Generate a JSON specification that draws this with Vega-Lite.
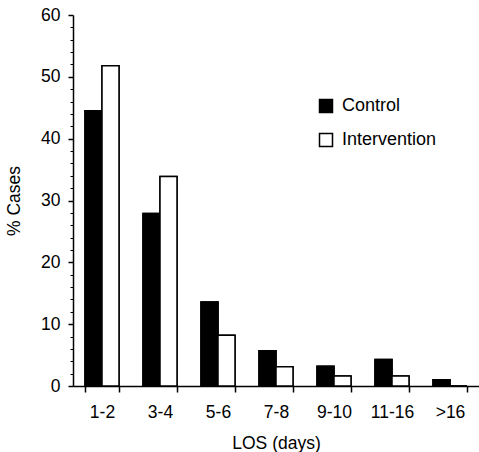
{
  "$schema": "https://vega.github.io/schema/vega-lite/v6.json",
  "autosize": {"type": "none"},
  "padding": {"left": 73, "top": 15, "right": 0, "bottom": 66},
  "width": 406,
  "height": 371,
  "background": "white",
  "config": {
    "view": {"stroke": null},
    "font": "Liberation Sans",
    "axis": {"labelFont": "Liberation Sans", "titleFont": "Liberation Sans", "labelColor": "black", "titleColor": "black", "domainColor": "black", "tickColor": "black", "grid": false, "titleFontWeight": "normal", "labelFontSize": 17.5, "titleFontSize": 17.5}
  },
  "data": {
    "values": [
      {"los": "1-2", "group": "Control", "pct": 44.5},
      {"los": "1-2", "group": "Intervention", "pct": 51.8},
      {"los": "3-4", "group": "Control", "pct": 27.9},
      {"los": "3-4", "group": "Intervention", "pct": 33.9},
      {"los": "5-6", "group": "Control", "pct": 13.6},
      {"los": "5-6", "group": "Intervention", "pct": 8.2},
      {"los": "7-8", "group": "Control", "pct": 5.7},
      {"los": "7-8", "group": "Intervention", "pct": 3.1},
      {"los": "9-10", "group": "Control", "pct": 3.2},
      {"los": "9-10", "group": "Intervention", "pct": 1.6},
      {"los": "11-16", "group": "Control", "pct": 4.3},
      {"los": "11-16", "group": "Intervention", "pct": 1.6},
      {"los": ">16", "group": "Control", "pct": 1.0},
      {"los": ">16", "group": "Intervention", "pct": 0}
    ]
  },
  "layer": [
    {
      "mark": {"type": "bar", "stroke": "black", "strokeWidth": 1.5},
      "encoding": {
        "x": {"field": "los", "type": "nominal", "sort": null,
          "scale": {"paddingInner": 0.414, "paddingOuter": 0.207},
          "axis": {"title": "LOS (days)", "labelAngle": 0, "tickBand": "extent", "tickSize": 6, "tickWidth": 1.5, "domainWidth": 1.5, "labelPadding": 11, "titlePadding": 14}},
        "xOffset": {"field": "group", "type": "nominal", "scale": {"paddingInner": 0, "paddingOuter": 0}},
        "y": {"field": "pct", "type": "quantitative", "scale": {"domain": [0, 60], "nice": false},
          "axis": {"title": "% Cases", "values": [0, 10, 20, 30, 40, 50, 60], "tickSize": 5, "tickWidth": 1.5, "domainWidth": 1.5, "labelPadding": 8, "titlePadding": 17}},
        "fill": {"field": "group", "type": "nominal",
          "scale": {"domain": ["Control", "Intervention"], "range": ["black", "white"]},
          "legend": {"title": null, "orient": "none", "legendX": 244, "legendY": 82, "symbolType": "square", "symbolSize": 169, "symbolStrokeColor": "black", "symbolStrokeWidth": 1.5, "labelFontSize": 18, "labelFont": "Liberation Sans", "labelColor": "black", "labelOffset": 7, "rowPadding": 14}}
      }
    },
    {
      "mark": {"type": "bar", "stroke": "black", "strokeWidth": 1.5},
      "encoding": {
        "x": {"field": "los", "type": "nominal", "sort": null,
          "axis": {"title": "LOS (days)", "labelAngle": 0, "tickBand": "extent", "tickSize": 6, "tickWidth": 1.5, "domainWidth": 1.5, "labelPadding": 11, "titlePadding": 14}},
        "xOffset": {"field": "group", "type": "nominal"},
        "y": {"field": "pct", "type": "quantitative",
          "axis": {"orient": "left", "title": null, "labels": false, "domain": false, "values": [2, 4, 6, 8, 12, 14, 16, 18, 22, 24, 26, 28, 32, 34, 36, 38, 42, 44, 46, 48, 52, 54, 56, 58], "tickSize": 3, "tickWidth": 1}},
        "fill": {"field": "group", "type": "nominal"}
      }
    }
  ],
  "resolve": {"axis": {"y": "independent"}}
}
